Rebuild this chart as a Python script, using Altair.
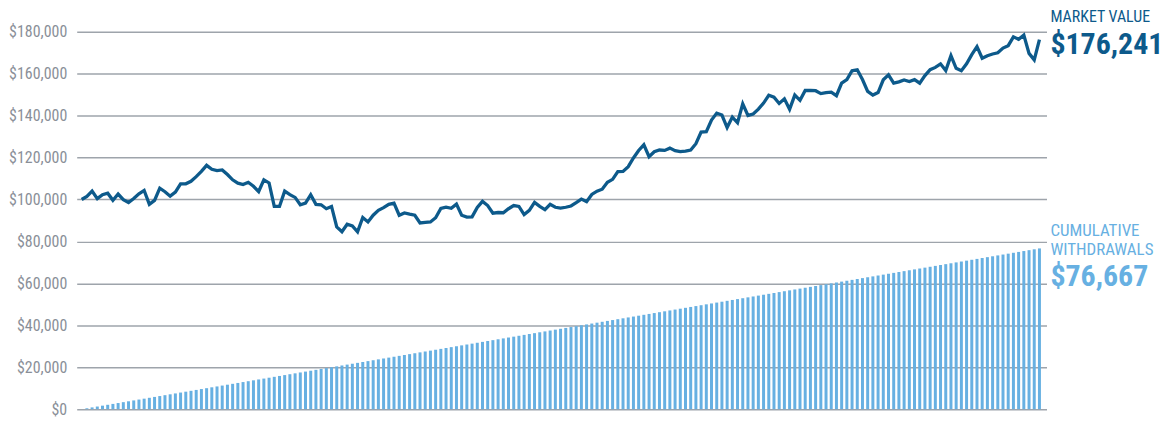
import altair as alt
import pandas as pd

# Market value of the portfolio, in thousands of dollars, one point per month (month 0 .. 184)
market_value_k = [
    100.0, 101.5, 104.0, 100.4, 102.3, 103.0, 99.6, 102.6, 99.9, 98.6,
    100.5, 102.7, 104.3, 97.7, 99.6, 105.4, 103.7, 101.6, 103.5, 107.5,
    107.5, 108.7, 110.9, 113.4, 116.3, 114.4, 113.8, 114.1, 111.9, 109.4,
    107.8, 107.1, 108.2, 106.3, 103.8, 109.4, 107.9, 96.7, 96.7, 104.0,
    102.3, 101.0, 97.5, 98.3, 102.3, 97.7, 97.5, 95.6, 96.7, 86.9,
    84.6, 88.2, 87.4, 84.6, 91.4, 89.3, 92.5, 94.8, 96.1, 97.7,
    98.3, 92.5, 93.6, 93.0, 92.5, 88.8, 89.1, 89.3, 91.3, 95.7,
    96.3, 95.8, 97.8, 92.5, 91.6, 91.7, 96.2, 99.1, 97.1, 93.5,
    93.8, 93.7, 95.6, 97.1, 96.7, 92.8, 94.8, 98.6, 96.7, 95.2,
    97.7, 96.3, 95.9, 96.3, 96.9, 98.5, 100.2, 99.0, 102.4, 104.0,
    104.9, 108.2, 109.6, 113.3, 113.4, 115.7, 119.8, 123.4, 126.1, 120.4,
    122.8, 123.6, 123.4, 124.5, 123.3, 122.8, 123.1, 123.6, 126.6, 132.2,
    132.4, 137.9, 141.2, 140.3, 134.3, 139.3, 136.6, 145.6, 140.1, 140.8,
    143.1, 146.0, 149.7, 148.8, 145.8, 148.0, 143.0, 149.8, 147.3, 152.0,
    152.0, 151.9, 150.5, 151.0, 151.2, 149.5, 155.5, 157.2, 161.4, 161.9,
    157.2, 151.6, 149.8, 151.0, 157.1, 159.5, 155.5, 156.1, 157.0, 156.3,
    157.2, 155.5, 159.1, 161.9, 163.0, 164.7, 161.5, 168.6, 162.6, 161.4,
    164.7, 169.1, 172.9, 167.4, 168.6, 169.4, 170.0, 172.2, 173.4, 177.6,
    176.4, 178.4, 169.7, 166.6, 176.241,
]
months = list(range(len(market_value_k)))

# Withdrawals: $5,000 a year, taken monthly (months 1 .. 184)
annual_withdrawal = 5000
withdrawal_months = list(range(1, 185))

y_ticks = [0, 20000, 40000, 60000, 80000, 100000, 120000, 140000, 160000, 180000]

FONT = "Liberation Sans Narrow, Roboto Condensed, Lato, sans-serif"
LINE_COLOR = "#0d5a8b"
BAR_COLOR = "#67b0e2"
AXIS_COLOR = "#8a8f98"
GRID_COLOR = "#9ea4ab"

line_df = pd.DataFrame({"month": months, "value": [v * 1000 for v in market_value_k]})
bar_df = pd.DataFrame({
    "month": withdrawal_months,
    "withdrawal": [annual_withdrawal / 12] * len(withdrawal_months),
})

final_month = months[-1]
final_value = round(market_value_k[-1] * 1000)
final_withdrawn = round(annual_withdrawal / 12 * len(withdrawal_months))

x_enc = alt.X("month:Q", scale=alt.Scale(domain=[0, 184.4], nice=False, zero=False), axis=None)
y_scale = alt.Scale(domain=[0, 180000], nice=False)
y_axis = alt.Axis(
    values=y_ticks, format="$,d", grid=True, gridColor=GRID_COLOR, gridWidth=1.5,
    domain=False, ticks=False, labelFont=FONT, labelFontSize=16, labelColor=AXIS_COLOR,
    labelPadding=10, title=None,
)

bars = alt.Chart(bar_df).transform_window(
    cumulative="sum(withdrawal)", sort=[alt.SortField("month")]
).mark_bar(size=3, color=BAR_COLOR).encode(
    x=x_enc,
    y=alt.Y("cumulative:Q", scale=y_scale, axis=y_axis),
)

line = alt.Chart(line_df).mark_line(color=LINE_COLOR, strokeWidth=3.3).encode(
    x=x_enc,
    y=alt.Y("value:Q", scale=y_scale),
)


def label(text, value, dy, size, color, bold=False):
    df = pd.DataFrame({"month": [final_month], "value": [value], "text": [text]})
    return alt.Chart(df).mark_text(
        align="left", baseline="middle", dx=11, dy=dy, font=FONT, fontSize=size,
        fontWeight="bold" if bold else "normal", color=color,
    ).encode(x=x_enc, y=alt.Y("value:Q", scale=y_scale), text="text:N")


labels = [
    label("MARKET VALUE", final_value, -23, 16, LINE_COLOR),
    label(f"${final_value:,}", final_value, 5, 30, LINE_COLOR, bold=True),
    label("CUMULATIVE", final_withdrawn, -17, 17, BAR_COLOR),
    label("WITHDRAWALS", final_withdrawn, 2, 17, BAR_COLOR),
    label(f"${final_withdrawn:,}", final_withdrawn, 29, 30, BAR_COLOR, bold=True),
]

chart = alt.layer(bars, line, *labels).properties(
    width=1160, height=410,
    autosize=alt.AutoSizeParams(type="fit", contains="padding"),
    padding={"left": 0, "top": 0, "right": 0, "bottom": 0},
).configure_view(stroke=None)

chart.save("out.html", embed_options={"renderer": "svg", "actions": False})
